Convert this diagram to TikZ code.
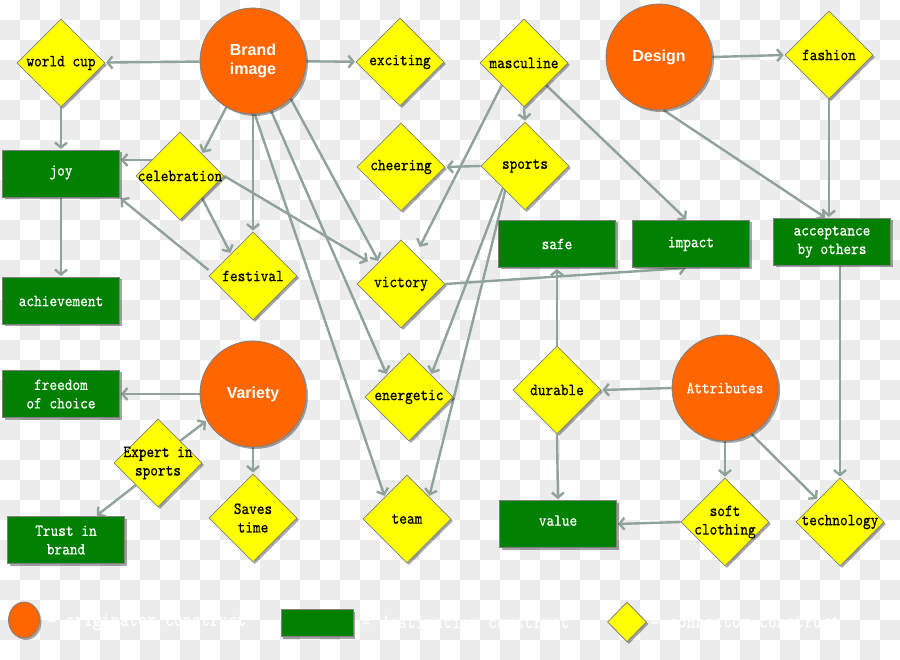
\documentclass[tikz,border=0pt]{standalone}
\usepackage{fontspec}
\newfontfamily\sansb{Liberation Sans}
\newfontfamily\nodefont{lmmono10-regular.otf}[FakeBold=0.5,FakeStretch=0.86]
\usetikzlibrary{shapes.geometric,arrows.meta,shadows,calc}
\pgfdeclarelayer{bg}
\pgfdeclarelayer{edges}
\pgfsetlayers{bg,edges,main}
\definecolor{orng}{HTML}{FF6600}
\definecolor{grn}{HTML}{008000}
\definecolor{ylw}{HTML}{FFFF00}
\definecolor{edgec}{HTML}{8FA39A}
\definecolor{checker}{HTML}{ECECEC}
\definecolor{bord}{HTML}{7F7F7F}
\begin{document}
\begin{tikzpicture}[x=1pt,y=-1pt,
  every node/.style={font=\nodefont\fontsize{17}{18.5}\selectfont, align=center},
  shadowed/.style={drop shadow={shadow xshift=2pt,shadow yshift=-2pt,opacity=0.35,fill=black}},
  origin/.style={circle, fill=orng, draw=bord, line width=0.8pt, minimum size=106pt, inner sep=0pt, text=white, shadowed},
  dest/.style={rectangle, fill=grn, draw=bord, line width=0.8pt, minimum width=117pt, minimum height=47pt, inner sep=0pt, text=white, shadowed},
  conn/.style={diamond, fill=ylw, draw=bord, line width=0.8pt, minimum width=88pt, minimum height=88pt, inner sep=0pt, aspect=1, shadowed},
  arr/.style={draw=edgec, line width=2.4pt, shorten >=1pt, -{Straight Barb[length=5pt,width=12pt]}},
  sanslab/.style={font=\sansb\bfseries\fontsize{16}{19}\selectfont},
  legtext/.style={anchor=west, text=white, font=\nodefont\fontsize{20}{22}\selectfont}
]
\useasboundingbox (0,0) rectangle (900,660);
\begin{pgfonlayer}{bg}
\fill[white] (0,0) rectangle (900,660);
\foreach \j in {0,...,32}{
  \pgfmathtruncatemacro\s{mod(\j+1,2)}
  \pgfmathtruncatemacro\t{\s+2}
  \foreach \i in {\s,\t,...,44}{\fill[checker] (\i*20,\j*20) rectangle ++(20,20);}
}
\end{pgfonlayer}

% originators
\node[origin, sanslab] (brand) at (253,61) {Brand\\image};
\node[origin, sanslab] (design) at (659,57) {Design};
\node[origin, sanslab] (variety) at (253,394) {Variety};
\node[origin] (attributes) at (725,388) {Attributes};

% connectors
\node[conn, label=center:{world cup}] (worldcup) at (61,63) {};
\node[conn, label=center:{exciting}] (exciting) at (400,62) {};
\node[conn, label=center:{masculine}] (masculine) at (524,63) {};
\node[conn, label=center:{fashion}] (fashion) at (829,55) {};
\node[conn, label=center:{celebration}] (celebration) at (180,176) {};
\node[conn, label=center:{cheering}] (cheering) at (401,167) {};
\node[conn, label=center:{sports}] (sports) at (525,166) {};
\node[conn, label=center:{festival}] (festival) at (253,276) {};
\node[conn, label=center:{victory}] (victory) at (401,284) {};
\node[conn, label=center:{energetic}] (energetic) at (409,397) {};
\node[conn, label=center:{team}] (team) at (407,519) {};
\node[conn, label=center:{Expert in\\sports}] (expert) at (158,463) {};
\node[conn, label=center:{Saves\\time}] (saves) at (253,518) {};
\node[conn, label=center:{durable}] (durable) at (557,390) {};
\node[conn, label=center:{soft\\clothing}] (soft) at (725,522) {};
\node[conn, label=center:{technology}] (technology) at (840,522) {};

% destinations
\node[dest] (joy) at (61,174) {\raisebox{7pt}{joy}};
\node[dest] (achievement) at (61,301) {achievement};
\node[dest] (safe) at (557,244) {safe};
\node[dest] (impact) at (691,244) {impact};
\node[dest] (acceptance) at (832,242) {acceptance\\by others};
\node[dest] (freedom) at (61,394) {freedom\\of choice};
\node[dest] (trust) at (66,540) {Trust in\\brand};
\node[dest] (value) at (558,524) {\raisebox{7pt}{value}};

% legend
\node[ellipse, fill=orng, draw=bord, line width=0.8pt, minimum width=31pt, minimum height=36pt, inner sep=0pt, shadowed] (legO) at (24,620) {};
\node[legtext] (legOt) at (44,622) {= originator construct};
\node[dest, minimum width=72pt, minimum height=27pt] (legD) at (317,623) {};
\node[legtext] (legDt) at (358,622) {= destination construct};
\node[conn, minimum width=39pt, minimum height=40pt] (legC) at (627,622) {};
\node[legtext] (legCt) at (647,622) {= connector construct};

\begin{pgfonlayer}{edges}
\draw[arr] (brand) -- (worldcup);
\draw[arr] (brand) -- (exciting);
\draw[arr] (brand.-120) -- (celebration.north east);
\draw[arr] (brand.south) -- (festival.north);
\draw[arr] (brand.-45) -- (victory.north west);
\draw[arr] (brand.-70) -- (energetic.north west);
\draw[arr] (brand.-88) -- (team.north west);
\draw[arr] ([yshift=16pt]celebration.center) -- ([yshift=14pt]joy.east);
\draw[arr] (celebration.south east) -- (festival.north west);
\draw[arr] (celebration.east) -- ([xshift=-10pt]victory.north west);
\draw[arr] ([yshift=6pt]festival.west) -- (joy.south east);
\draw[arr] (worldcup.south) -- (joy.north);
\draw[arr] (joy.south) -- (achievement.north);
\draw[arr] (masculine.south) -- (sports.north);
\draw[arr] (masculine.south east) -- ([xshift=-4pt]impact.north);
\draw[arr] (masculine.south west) -- ([xshift=-4pt,yshift=14pt]victory.north east);
\draw[arr] (sports.west) -- (cheering.east);
\draw[arr] (sports.south west) -- (energetic.north east);
\draw[arr] ([xshift=3pt]sports.south west) -- (team.north east);
\draw[arr] (victory.east) -- ([xshift=-4pt]impact.south);
\draw[arr] (durable.north) -- (safe.south);
\draw[arr] (durable.south) -- (value.north);
\draw[arr] (attributes.west) -- (durable.east);
\draw[arr] (attributes.south) -- (soft.north);
\draw[arr] (attributes.-60) -- (technology.north west);
\draw[arr] (soft.west) -- (value.east);
\draw[arr] (technology.north |- acceptance.south) -- (technology.north);
\draw[arr] (fashion.south) -- (fashion.south |- acceptance.north);
\draw[arr] (design.-85) -- ([xshift=-6pt]acceptance.north);
\draw[arr] (design.east) -- (fashion.west);
\draw[arr] (variety.west) -- (freedom.east);
\draw[arr] (expert.north east) -- (variety.210);
\draw[arr] (expert.south west) -- ([xshift=30pt]trust.north);
\draw[arr] (variety.south) -- (saves.north);
\end{pgfonlayer}
\end{tikzpicture}
\end{document}
